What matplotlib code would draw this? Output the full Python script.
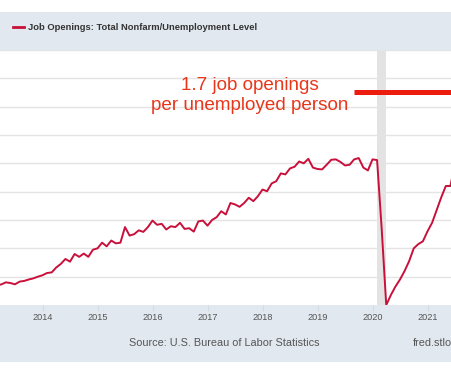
import matplotlib
matplotlib.use("Agg")
import matplotlib.pyplot as plt
from matplotlib.patches import Rectangle

plt.rcParams['font.family'] = ['Liberation Sans', 'DejaVu Sans']

# ---- data (monthly ratio, Mar 2013 .. Jul 2021) ----
start_year, start_month = 2013, 3
ratio = [
    0.340, 0.345, 0.360, 0.355, 0.346, 0.365, 0.370, 0.380, 0.388, 0.400,           # 2013 Mar-Dec
    0.410, 0.426, 0.430, 0.465, 0.490, 0.525, 0.506, 0.560, 0.540, 0.563, 0.540, 0.590,  # 2014
    0.600, 0.640, 0.614, 0.655, 0.635, 0.640, 0.750, 0.690, 0.700, 0.727, 0.716, 0.750,  # 2015
    0.796, 0.766, 0.773, 0.733, 0.756, 0.750, 0.780, 0.737, 0.742, 0.718, 0.790, 0.796,  # 2016
    0.760, 0.800, 0.820, 0.862, 0.839, 0.920, 0.910, 0.893, 0.920, 0.957, 0.933, 0.968,  # 2017
    1.015, 1.003, 1.058, 1.074, 1.129, 1.122, 1.164, 1.176, 1.213, 1.200, 1.232, 1.170,  # 2018
    1.160, 1.157, 1.190, 1.225, 1.228, 1.210, 1.185, 1.190, 1.228, 1.237, 1.170, 1.150,  # 2019
    1.228, 1.223, 0.740, 0.200, 0.270, 0.330, 0.380, 0.440, 0.510, 0.600, 0.630, 0.650,  # 2020
    0.720, 0.780, 0.870, 0.960, 1.040, 1.040, 1.200,                                     # 2021 Jan-Jul
]
x_years = [start_year + (start_month - 1 + i) / 12 for i in range(len(ratio))]

year_ticks = [2014, 2015, 2016, 2017, 2018, 2019, 2020, 2021]
y_grid = [0.4, 0.6, 0.8, 1.0, 1.2, 1.4, 1.6, 1.8, 2.0]
recession = (2020 + 1 / 12, 2020 + 3 / 12)
highlight_value = 1.7
highlight_start = 2019.66

title = "Job Openings: Total Nonfarm/Unemployment Level"
source = "Source: U.S. Bureau of Labor Statistics"
site = "fred.stlouisfed.org"
note = "1.7 job openings\nper unemployed person"

# ---- figure ----
W, H = 452, 377
fig = plt.figure(figsize=(W / 100, H / 100), dpi=100)
fig.patch.set_facecolor('white')

band = '#e1e8ef'
def px_rect(y0, y1, color):
    fig.patches.append(Rectangle((0, 1 - y1 / H), 1, (y1 - y0) / H,
                                 transform=fig.transFigure, facecolor=color,
                                 edgecolor='none', zorder=-5))
px_rect(12, 50, band)
px_rect(305, 362, band)

ax = fig.add_axes([0, 1 - 305 / H, 1, (305 - 50) / H])
ax.set_zorder(1)
ax.set_facecolor('white')
ax.set_xlim(2014 - 42.5 / 55, 2014 + 409.5 / 55)
ax.set_ylim(0.2, 2.0)

for g in y_grid:
    ax.axhline(g, color='#e4e4e4', lw=1.0, zorder=1)
ax.axvspan(*recession, color='#e3e3e3', lw=0, zorder=1)

ax.plot(x_years, ratio, color='#c8103a', lw=1.4, zorder=3, solid_joinstyle='round')
ax.hlines(highlight_value, highlight_start, 2022, color='#ec1c0e', lw=3.6, zorder=4)
ax.text(2017.77, 1.68, note, ha='center', va='center', color='#e8361a',
        fontsize=13.6, linespacing=1.22, zorder=5)

for s in ax.spines.values():
    s.set_visible(False)
ax.set_yticks([])
ax.set_xticks(year_ticks)
ax.set_xticklabels([str(y) for y in year_ticks], fontsize=6.6, color='#555555')
ax.tick_params(axis='x', length=4, color='#d3dbe3', pad=1.5)

# header
fig.lines.append(plt.Line2D([13 / W, 24 / W], [1 - 27 / H, 1 - 27 / H],
                            transform=fig.transFigure, color='#c8103a', lw=2))
fig.text(28 / W, 1 - 27 / H, title, ha='left', va='center', fontsize=6.75,
         fontweight='bold', color='#333333')
fig.text(224 / W, 1 - 343 / H, source, ha='center', va='center', fontsize=7.8,
         color='#555555')
fig.text(413 / W, 1 - 343 / H, site, ha='left', va='center', fontsize=7.8,
         color='#555555')

fig.savefig('out.png', dpi=100)
